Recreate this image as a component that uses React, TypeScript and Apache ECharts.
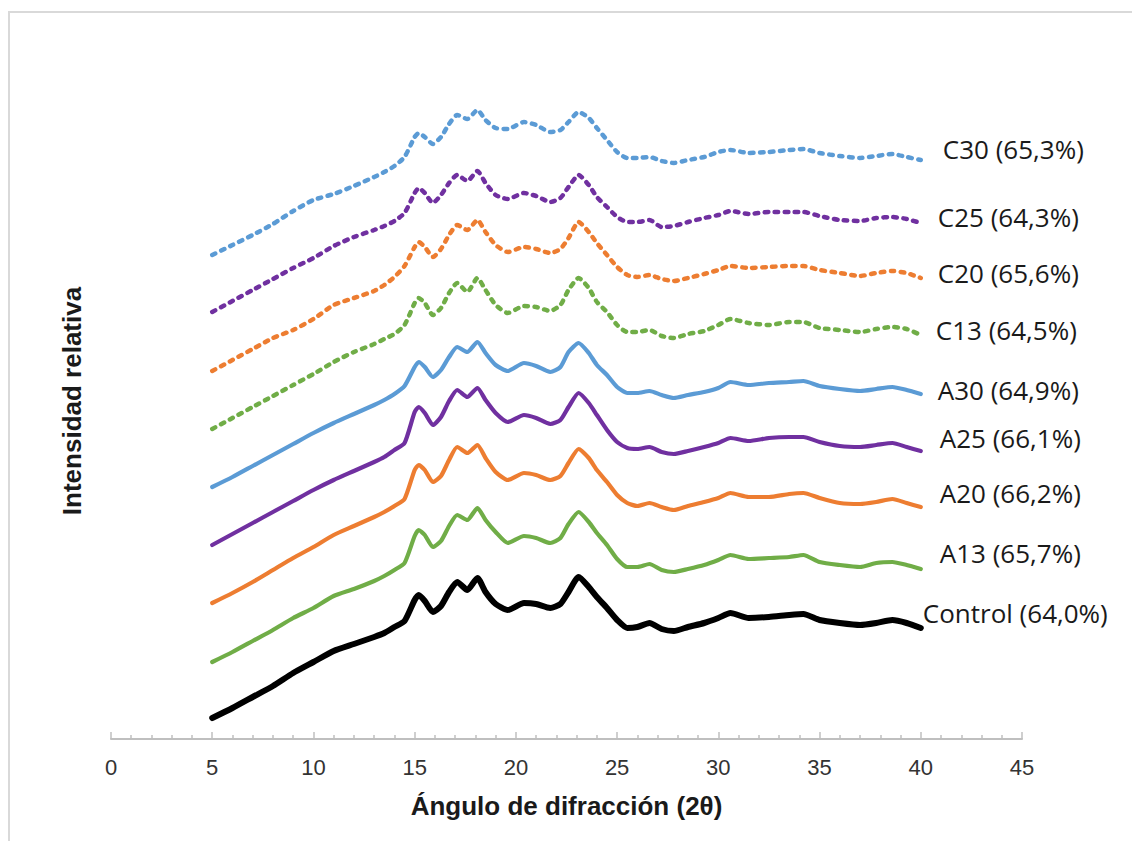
import React, { useEffect, useRef } from "react";
import * as echarts from "echarts";

// Diffraction angle (2θ) sample positions
const ANGLES = [5, 6, 7, 8, 9, 10, 11, 12, 13, 13.5, 14, 14.5, 15, 15.2, 15.5, 15.9, 16.3, 16.7, 17.1, 17.6, 18.1, 18.5, 19, 19.6, 20.4, 21, 21.7, 22.2, 22.6, 23.1, 23.6, 24, 24.5, 25, 25.5, 26, 26.6, 27.2, 27.8, 28.5, 29.3, 30, 30.6, 31.5, 32.5, 33.5, 34.2, 35, 36, 37, 37.8, 38.6, 39.3, 40];

// Relative intensity (stacked, arbitrary units) per sample
const CONTROL = [21, 31, 42, 53, 66, 77, 88, 95, 102, 106, 112, 118, 139, 144, 138, 127, 133, 147, 157, 149, 161, 147, 135, 129, 136, 135, 131, 135, 147, 162, 152, 142, 131, 119, 111, 112, 116, 110, 108, 112, 116, 121, 126, 121, 122, 124, 125, 119, 116, 114, 116, 119, 116, 111];
const A13 = [77, 87, 98, 109, 121, 131, 143, 150, 158, 163, 169, 176, 203, 209, 204, 192, 198, 213, 224, 219, 231, 219, 207, 196, 203, 201, 196, 201, 215, 227, 217, 206, 194, 180, 172, 172, 175, 169, 167, 170, 174, 179, 184, 180, 181, 182, 184, 177, 174, 172, 176, 177, 174, 170];
const A20 = [136, 146, 157, 169, 181, 192, 204, 213, 222, 227, 233, 240, 269, 274, 269, 257, 263, 279, 292, 286, 294, 281, 267, 259, 266, 264, 259, 263, 276, 290, 281, 269, 257, 244, 236, 233, 236, 232, 229, 233, 237, 241, 246, 242, 242, 245, 246, 241, 236, 235, 237, 240, 236, 232];
const A25 = [194, 205, 216, 227, 238, 249, 259, 268, 277, 282, 289, 296, 327, 332, 326, 314, 322, 338, 349, 342, 351, 339, 326, 317, 324, 321, 315, 319, 332, 346, 336, 324, 309, 297, 291, 290, 292, 287, 285, 288, 292, 296, 301, 298, 301, 302, 302, 297, 293, 292, 294, 296, 292, 288];
const A30 = [252, 262, 273, 284, 295, 306, 316, 325, 334, 339, 345, 353, 372, 377, 372, 362, 369, 382, 392, 387, 397, 386, 374, 368, 376, 373, 367, 372, 387, 396, 386, 374, 364, 352, 346, 346, 348, 344, 341, 344, 347, 351, 357, 354, 356, 357, 358, 353, 350, 348, 350, 352, 349, 345];
const C13 = [310, 321, 332, 343, 354, 365, 377, 387, 395, 400, 405, 414, 436, 441, 436, 424, 431, 446, 456, 447, 461, 449, 434, 426, 433, 432, 428, 434, 449, 461, 451, 437, 427, 414, 407, 407, 409, 403, 401, 405, 408, 414, 420, 416, 414, 417, 417, 411, 409, 407, 410, 412, 410, 404];
const C20 = [368, 379, 390, 401, 409, 420, 434, 441, 448, 454, 462, 473, 492, 497, 492, 482, 490, 504, 514, 509, 519, 507, 494, 487, 492, 490, 486, 490, 501, 517, 507, 496, 484, 472, 464, 462, 464, 460, 458, 461, 465, 469, 473, 471, 472, 473, 473, 469, 466, 463, 466, 468, 466, 461];
const C25 = [427, 438, 449, 460, 471, 481, 493, 502, 509, 513, 518, 526, 546, 551, 546, 536, 544, 556, 564, 558, 568, 556, 544, 540, 546, 543, 537, 541, 552, 564, 554, 542, 532, 522, 517, 517, 519, 512, 513, 517, 521, 524, 528, 525, 527, 527, 527, 523, 519, 518, 521, 522, 520, 516];
const C30 = [484, 494, 504, 515, 528, 539, 545, 553, 562, 567, 573, 582, 602, 606, 602, 595, 602, 615, 624, 620, 629, 619, 611, 610, 617, 614, 607, 609, 617, 627, 621, 611, 599, 587, 581, 581, 582, 578, 576, 579, 582, 587, 589, 586, 587, 589, 590, 586, 583, 581, 583, 585, 582, 579];

const SAMPLE_NAMES = ["Control (64,0%)", "A13 (65,7%)", "A20 (66,2%)", "A25 (66,1%)", "A30 (64,9%)", "C13 (64,5%)", "C20 (65,6%)", "C25 (64,3%)", "C30 (65,3%)"];
const SAMPLE_VALUES = [CONTROL, A13, A20, A25, A30, C13, C20, C25, C30];

const X_TITLE = "Ángulo de difracción (2θ)";
const Y_TITLE = "Intensidad relativa";

// styling (not data)
const STYLES = [
  { color: "#000000", width: 6, dotted: false, offset: [2, -15] },
  { color: "#70AD47", width: 4.2, dotted: false, offset: [19, -16] },
  { color: "#ED7D31", width: 4.2, dotted: false, offset: [19, -14] },
  { color: "#7030A0", width: 4.2, dotted: false, offset: [19, -13] },
  { color: "#5B9BD5", width: 4.2, dotted: false, offset: [17, -4] },
  { color: "#70AD47", width: 4.5, dotted: true, offset: [15, -5] },
  { color: "#ED7D31", width: 4.5, dotted: true, offset: [17, -5] },
  { color: "#7030A0", width: 4.5, dotted: true, offset: [17, -6] },
  { color: "#5B9BD5", width: 4.5, dotted: true, offset: [22, -11] },
];

export default function App() {
  const ref = useRef<HTMLDivElement>(null);

  useEffect(() => {
    if (!ref.current) return;
    const chart = echarts.init(ref.current, null, { renderer: "svg" });

    const series = SAMPLE_NAMES.map((name, i) => {
      const st = STYLES[i];
      return {
        type: "line",
        name,
        data: ANGLES.map((a, j) => [a, SAMPLE_VALUES[i][j]]),
        showSymbol: false,
        smooth: 0.2,
        z: 10 - i,
        lineStyle: {
          color: st.color,
          width: st.width,
          type: st.dotted ? [3.5, 6.5] : "solid",
          cap: "round",
          join: "round",
        },
        endLabel: {
          show: true,
          formatter: name,
          distance: 0,
          offset: st.offset,
          align: "left",
          verticalAlign: "middle",
          fontFamily: "Open Sans",
          fontSize: 26,
          color: "#1a1a1a",
        },
        emphasis: { disabled: true },
      };
    });

    chart.setOption({
      animation: false,
      backgroundColor: "#ffffff",
      grid: { left: 111, right: 110, top: 89, bottom: 102, outerBoundsMode: "none" },
      xAxis: {
        type: "value",
        min: 0,
        max: 45,
        interval: 5,
        name: X_TITLE,
        nameLocation: "middle",
        nameGap: 54,
        nameTextStyle: {
          fontFamily: "Liberation Sans",
          fontWeight: "bold",
          fontSize: 26,
          color: "#1a1a1a",
        },
        axisLine: { show: true, lineStyle: { color: "#bfbfbf", width: 2 } },
        axisTick: { show: true, inside: true, length: 7, lineStyle: { color: "#bfbfbf", width: 1.5 } },
        minorTick: { show: true, splitNumber: 5, length: 4, lineStyle: { color: "#bfbfbf", width: 1.5 } },
        axisLabel: {
          margin: 17,
          fontFamily: "Liberation Sans",
          fontSize: 22,
          color: "#333333",
        },
        splitLine: { show: false },
        minorSplitLine: { show: false },
      },
      yAxis: {
        type: "value",
        min: 0,
        max: 650,
        axisLine: { show: false },
        axisTick: { show: false },
        axisLabel: { show: false },
        splitLine: { show: false },
      },
      graphic: [
        {
          type: "rect",
          shape: { x: 9, y: 12, width: 1140, height: 840 },
          style: { fill: "none", stroke: "#d9d9d9", lineWidth: 2 },
          silent: true,
        },
        {
          type: "text",
          x: 72,
          y: 401,
          rotation: Math.PI / 2,
          silent: true,
          style: {
            text: Y_TITLE,
            fontFamily: "Liberation Sans",
            fontWeight: "bold",
            fontSize: 26,
            fill: "#1a1a1a",
            align: "center",
            verticalAlign: "middle",
          },
        },
      ],
      series,
    });

    return () => chart.dispose();
  }, []);

  return (
    <div
      ref={ref}
      style={{ position: "absolute", left: 0, top: 0, width: 1132, height: 841, background: "#fff" }}
    />
  );
}
